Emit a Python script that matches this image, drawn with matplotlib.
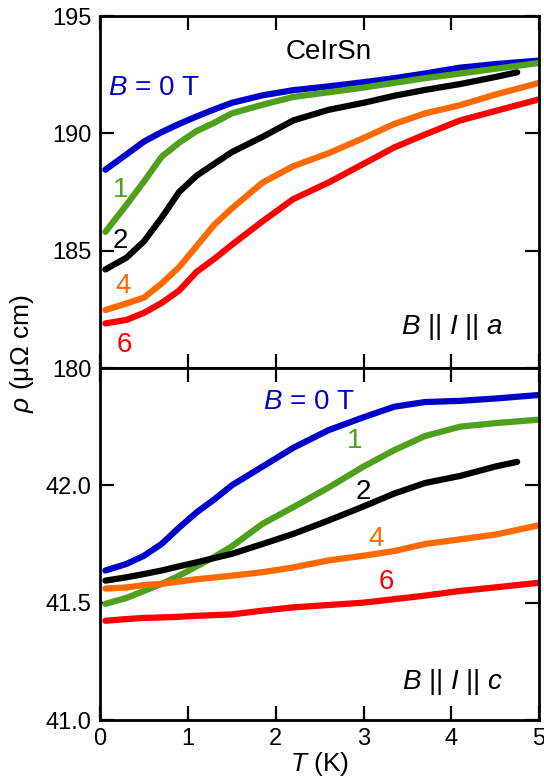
import numpy as np
import matplotlib
matplotlib.use("Agg")
import matplotlib.pyplot as plt

plt.rcParams['font.family'] = ['Liberation Sans', 'DejaVu Sans']
plt.rcParams['mathtext.fontset'] = 'custom'
plt.rcParams['mathtext.rm'] = 'Liberation Sans'
plt.rcParams['mathtext.it'] = 'Liberation Sans:italic'

# temperatures (K); the 2 T curves stop near 4.75 K
T = [0.06, 0.3, 0.5, 0.7, 0.9, 1.1, 1.3, 1.5, 1.85, 2.2, 2.6, 3.0, 3.35, 3.7, 4.1, 4.5, 5.0]
T_2T = [0.06, 0.3, 0.5, 0.7, 0.9, 1.1, 1.3, 1.5, 1.85, 2.2, 2.6, 3.0, 3.35, 3.7, 4.1, 4.5, 4.75]

colors = ["#0000cc", "#4fa01a", "#000000", "#ff6a00", "#ff0000"]

# B || I || a  (top panel), rho in micro-ohm cm
a_0T = [188.45, 189.1, 189.65, 190.05, 190.4, 190.72, 191.02, 191.3, 191.62, 191.84, 192.0, 192.18, 192.35, 192.55, 192.8, 192.95, 193.1]
a_1T = [185.8, 186.95, 187.95, 189.0, 189.6, 190.1, 190.45, 190.85, 191.22, 191.55, 191.75, 191.95, 192.15, 192.35, 192.55, 192.75, 193.0]
a_2T = [184.2, 184.7, 185.4, 186.4, 187.5, 188.2, 188.7, 189.2, 189.85, 190.55, 191.0, 191.3, 191.6, 191.85, 192.1, 192.4, 192.6]
a_4T = [182.47, 182.75, 183.0, 183.6, 184.3, 185.2, 186.1, 186.8, 187.9, 188.6, 189.15, 189.8, 190.4, 190.85, 191.2, 191.65, 192.15]
a_6T = [181.9, 182.05, 182.35, 182.77, 183.3, 184.1, 184.65, 185.25, 186.25, 187.2, 187.9, 188.7, 189.4, 189.95, 190.55, 190.95, 191.45]

# B || I || c  (bottom panel)
c_0T = [41.637, 41.665, 41.70, 41.75, 41.82, 41.885, 41.94, 42.0, 42.08, 42.16, 42.235, 42.29, 42.335, 42.355, 42.36, 42.37, 42.385]
c_1T = [41.495, 41.52, 41.55, 41.58, 41.615, 41.655, 41.695, 41.74, 41.836, 41.907, 41.99, 42.08, 42.15, 42.21, 42.25, 42.265, 42.28]
c_2T = [41.594, 41.608, 41.622, 41.637, 41.655, 41.672, 41.69, 41.708, 41.75, 41.793, 41.85, 41.91, 41.965, 42.01, 42.04, 42.08, 42.10]
c_4T = [41.56, 41.565, 41.575, 41.58, 41.59, 41.60, 41.607, 41.615, 41.63, 41.65, 41.68, 41.70, 41.72, 41.75, 41.77, 41.79, 41.83]
c_6T = [41.423, 41.43, 41.435, 41.437, 41.44, 41.444, 41.447, 41.45, 41.466, 41.48, 41.49, 41.50, 41.515, 41.53, 41.55, 41.565, 41.585]

a_curves = [a_0T, a_1T, a_2T, a_4T, a_6T]
c_curves = [c_0T, c_1T, c_2T, c_4T, c_6T]
T_list = [T, T, T_2T, T, T]

fig = plt.figure(figsize=(5.44, 7.81), dpi=100)
ax1 = fig.add_axes([0.184, 0.5288, 0.807, 0.4507])
ax2 = fig.add_axes([0.184, 0.0781, 0.807, 0.4507])

for ax, curves in [(ax1, a_curves), (ax2, c_curves)]:
    for x, y, col in zip(T_list, curves, colors):
        ax.plot(x, y, color=col, lw=4.5, solid_capstyle='round')
    ax.set_xlim(0, 5)
    ax.set_xticks([0, 1, 2, 3, 4, 5])
    ax.tick_params(direction='in', top=True, right=True, length=10, width=1.6,
                   labelsize=17, pad=6)
    for s in ax.spines.values():
        s.set_linewidth(2)

ax1.set_ylim(180, 195)
ax1.set_yticks([180, 185, 190, 195])
ax1.tick_params(labelbottom=False)

ax2.set_ylim(41.0, 42.5)
ax2.set_yticks([41.0, 41.5, 42.0])
ax2.set_yticklabels(["41.0", "41.5", "42.0"])
ax2.set_xlabel("$T$ (K)", fontsize=19, labelpad=0)

fig.text(0.04, 0.547, r"$\rho$ ($\mathrm{\mu\Omega}$ cm)", rotation=90,
         fontsize=19, ha='center', va='center')

fs = 20
# top panel labels
ax1.text(0.09, 191.95, "$B$ = 0 T", color=colors[0], fontsize=fs, va='center')
ax1.text(2.6, 193.45, "CeIrSn", color='k', fontsize=fs, ha='center', va='center')
ax1.text(0.23, 187.6, "1", color=colors[1], fontsize=fs, ha='center', va='center')
ax1.text(0.23, 185.4, "2", color=colors[2], fontsize=fs, ha='center', va='center')
ax1.text(0.26, 183.5, "4", color=colors[3], fontsize=fs, ha='center', va='center')
ax1.text(0.28, 181.0, "6", color=colors[4], fontsize=fs, ha='center', va='center')
ax1.text(4.59, 181.75, "$B$ || $I$ || $a$", color='k', fontsize=fs, ha='right', va='center')

# bottom panel labels
ax2.text(1.86, 42.355, "$B$ = 0 T", color=colors[0], fontsize=fs, va='center')
ax2.text(2.9, 42.19, "1", color=colors[1], fontsize=fs, ha='center', va='center')
ax2.text(3.0, 41.97, "2", color=colors[2], fontsize=fs, ha='center', va='center')
ax2.text(3.14, 41.77, "4", color=colors[3], fontsize=fs, ha='center', va='center')
ax2.text(3.26, 41.59, "6", color=colors[4], fontsize=fs, ha='center', va='center')
ax2.text(4.59, 41.16, "$B$ || $I$ || $c$", color='k', fontsize=fs, ha='right', va='center')

fig.savefig("out.png", dpi=100)
